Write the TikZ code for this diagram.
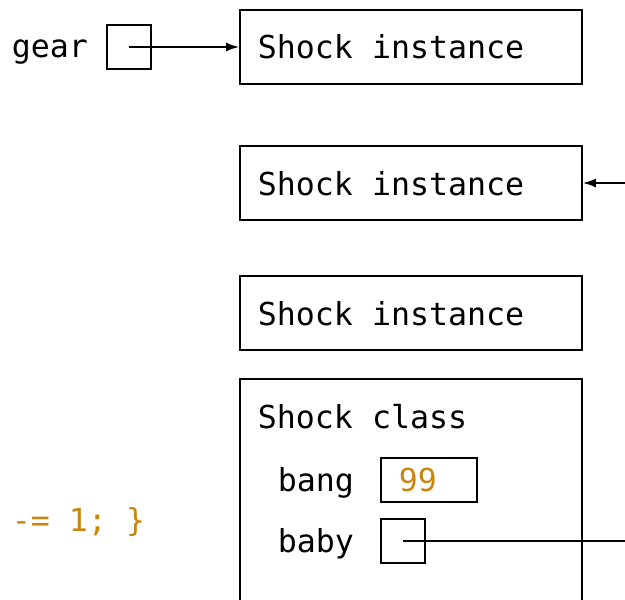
\documentclass[tikz,border=0pt]{standalone}
\usepackage{fontspec}
\setmonofont{DejaVu Sans Mono}
\usepackage{tikz}
\usetikzlibrary{arrows.meta}
\usepackage{xcolor}
\definecolor{numcol}{HTML}{C8860F}

\begin{document}
\begin{tikzpicture}
	[x=0.5pt,y=-0.5pt,line width=0.9pt,
	font=\fontsize{15.8}{19}\selectfont\ttfamily,
	obj/.style = {
		draw, minimum width=171pt, minimum height=37pt, inner sep=0pt
	},
	txt/.style = {
		anchor=base west, inner sep=0pt
	},
	cell/.style = {
		draw, minimum width=22pt, minimum height=22pt, inner sep=0pt
	},
	wide/.style = {
		draw, minimum width=48pt, minimum height=22pt, inner sep=0pt
	},
	ptr/.style = {
		-{Latex[length=6.5pt,width=4.5pt]}
	}]
	\useasboundingbox (0,0) rectangle (625,599);

	%Draw nodes
	\node[txt] at (11,58) (gear) {gear};
	\node[cell] at (129,47) (gearbox) {};

	\node[obj] at (411,47) (inst1) {};
	\node[txt] at (257,59) (inst1txt) {Shock instance};
	\node[obj] at (411,183) (inst2) {};
	\node[txt] at (257,195) (inst2txt) {Shock instance};
	\node[obj] at (411,313) (inst3) {};
	\node[txt] at (257,325) (inst3txt) {Shock instance};

	\node[draw, minimum width=171pt, minimum height=130pt, anchor=north] at (411,378) (cls) {};
	\node[txt] at (257,428) (clsname) {Shock class};
	\node[txt] at (277,491) (bang) {bang};
	\node[wide] at (429,480) (bangbox) {};
	\node[txt, text=numcol] at (398,491) (bangval) {99};
	\node[txt] at (277,552) (baby) {baby};
	\node[cell] at (403,541) (babybox) {};

	\node[txt, text=numcol] at (11,531) (code) {-= 1; \}};

	\coordinate (in2) at (625,183);
	\coordinate (out) at (625,541);

	%Draw pointers
	\draw[ptr] (gearbox.center) -- (inst1.west);
	\draw[ptr] (in2) -- (inst2.east);
	\draw (babybox.center) -- (out);
\end{tikzpicture}
\end{document}
